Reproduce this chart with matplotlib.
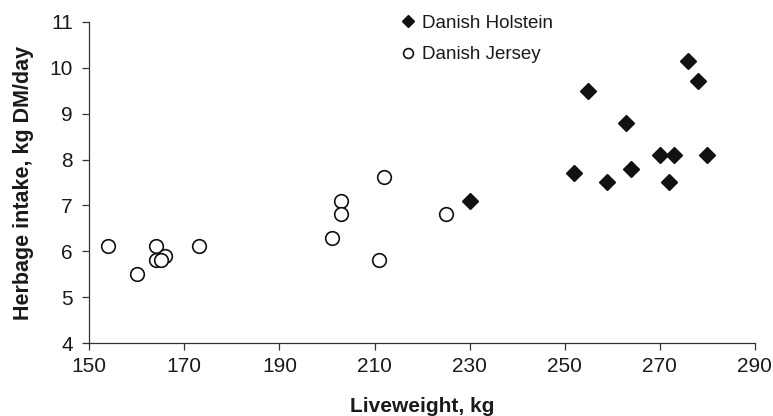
import matplotlib
matplotlib.use("Agg")
import matplotlib.pyplot as plt

plt.rcParams['font.family'] = ['Liberation Sans', 'DejaVu Sans']

# Data
holstein_lw = [230, 252, 255, 259, 263, 264, 270, 272, 273, 276, 278, 280]
holstein_hi = [7.1, 7.7, 9.5, 7.5, 8.8, 7.8, 8.1, 7.5, 8.1, 10.15, 9.7, 8.1]

jersey_lw = [154, 160, 164, 164, 166, 165, 173, 201, 203, 203, 211, 212, 225]
jersey_hi = [6.12, 5.5, 6.12, 5.81, 5.9, 5.81, 6.12, 6.3, 7.09, 6.82, 5.81, 7.62, 6.82]

labels = ["Danish Holstein", "Danish Jersey"]
x_ticks = [150, 170, 190, 210, 230, 250, 270, 290]
y_ticks = [4, 5, 6, 7, 8, 9, 10, 11]

txt = '#1a1a1a'
fig = plt.figure(figsize=(7.73, 4.16), dpi=100)
ax = fig.add_axes([0.1155, 0.1748, 0.861, 0.773])

ax.plot(holstein_lw, holstein_hi, linestyle='none', marker='D', markersize=8.4,
        color='#111111', markeredgecolor='#111111', label=labels[0], zorder=3)
ax.plot(jersey_lw, jersey_hi, linestyle='none', marker='o', markersize=9.8,
        markerfacecolor='white', markeredgecolor='#111111', markeredgewidth=1.2,
        label=labels[1], zorder=3)

ax.set_xlim(150, 290)
ax.set_ylim(4, 11)
ax.set_xticks(x_ticks)
ax.set_yticks(y_ticks)
for s in ['top', 'right']:
    ax.spines[s].set_visible(False)
for s in ['left', 'bottom']:
    ax.spines[s].set_linewidth(0.9)
    ax.spines[s].set_color('#333333')
ax.tick_params(direction='out', length=4.8, width=0.9, color='#333333',
               labelsize=15, labelcolor=txt)
ax.tick_params(axis='y', pad=7)
ax.tick_params(axis='x', pad=5)

ax.set_xlabel("Liveweight, kg", fontsize=15, fontweight='bold', color=txt, labelpad=15.5)
ax.set_ylabel("Herbage intake, kg DM/day", fontsize=15.5, fontweight='bold', color=txt, labelpad=11)

leg = ax.legend(loc='upper left', bbox_to_anchor=(0.445, 1.074), frameon=False,
                fontsize=13.5, markerscale=0.72, handlelength=0.6, handletextpad=0.43,
                labelspacing=0.77, numpoints=1)
for t in leg.get_texts():
    t.set_color(txt)

fig.savefig("out.png", dpi=100)
